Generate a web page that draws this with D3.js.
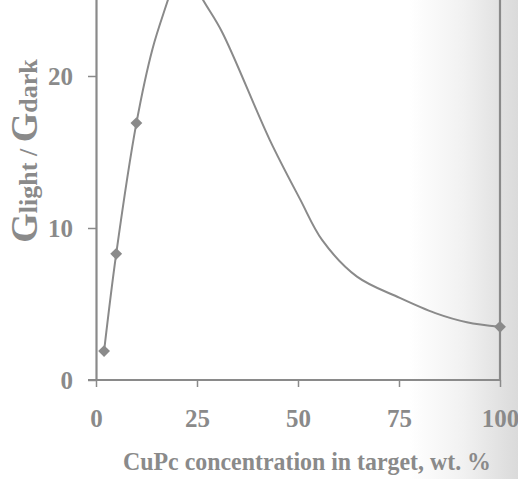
<!DOCTYPE html>
<html>
<head>
<meta charset="utf-8">
<script src="https://cdn.jsdelivr.net/npm/d3@7"></script>
<style>
  html, body { margin: 0; padding: 0; background: #fff; }
  svg { display: block; }
  text { font-family: "Liberation Serif", "Times New Roman", serif; font-weight: bold; fill: #8a8a8a; }
</style>
</head>
<body>
<svg id="chart" width="518" height="479"></svg>
<script>
// Measured points (diamond markers)
const markerX = [2, 5, 10, 20, 100];
const markerY = [1.9, 8.3, 16.9, 27.6, 3.5];
// Smooth curve
const curveX = [2, 5, 10, 14, 17.8, 21, 26.5, 31.2, 43, 50.5, 56, 64.6, 75.2, 84, 91.8, 100];
const curveY = [1.9, 8.3, 16.9, 21.8, 25, 27.6, 25, 22.9, 15.8, 11.9, 9.2, 6.8, 5.4, 4.4, 3.8, 3.5];
const xTicks = [0, 25, 50, 75, 100];
const yTicks = [0, 10, 20];
const xTitle = "CuPc concentration in target, wt. %";

const svg = d3.select("#chart");
const W = 518, H = 479;
const grey = "#8a8a8a";

// scan-like shading on right side
const defs = svg.append("defs");
const g1 = defs.append("linearGradient").attr("id", "shade").attr("x1", 0).attr("x2", 1).attr("y1", 0).attr("y2", 0);
g1.append("stop").attr("offset", "0").attr("stop-color", "#ffffff");
g1.append("stop").attr("offset", "0.5").attr("stop-color", "#f1f1f1");
g1.append("stop").attr("offset", "1").attr("stop-color", "#dadada");
svg.append("rect").attr("width", W).attr("height", H).attr("fill", "#fff");
svg.append("rect").attr("x", 410).attr("y", 0).attr("width", 108).attr("height", H).attr("fill", "url(#shade)");

const x = d3.scaleLinear().domain([0, 100]).range([96, 500]);
const y = d3.scaleLinear().domain([0, 30]).range([380, -76]);

// plot frame (top out of view)
svg.append("line").attr("x1", x(100)).attr("x2", x(100)).attr("y1", y(30)).attr("y2", y(0))
  .attr("stroke", grey).attr("stroke-width", 2.2);

// axes
const xAxis = d3.axisBottom(x).tickValues(xTicks).tickSize(7).tickPadding(22).tickFormat(d3.format("d"));
const gx = svg.append("g").attr("transform", `translate(0,${y(0)})`).call(xAxis);
const yAxis = d3.axisLeft(y).tickValues(yTicks).tickSize(8).tickPadding(15).tickFormat(d3.format("d"));
const gy = svg.append("g").attr("transform", `translate(${x(0)},0)`).call(yAxis);

[gx, gy].forEach(g => {
  g.select(".domain").attr("stroke", grey).attr("stroke-width", 2.2);
  g.selectAll(".tick line").attr("stroke", grey).attr("stroke-width", 1.5);
  g.selectAll(".tick text").style("font-size", "25px").attr("fill", grey);
});
gy.select(".domain").attr("d", `M0.5,${y(30)}V${y(0)}`);
gx.select(".domain").attr("d", `M${x(0) - 8},0H${x(100)}`);
gy.selectAll(".tick text").attr("dy", "0.35em");

// curve
const pts = curveX.map((v, i) => [v, curveY[i]]);
const line = d3.line().x(d => x(d[0])).y(d => y(d[1])).curve(d3.curveCatmullRom.alpha(0.5));
svg.append("path").datum(pts).attr("d", line).attr("fill", "none").attr("stroke", grey).attr("stroke-width", 2);

// markers (square diamonds)
const sym = d3.symbol().type(d3.symbolSquare).size(70);
svg.selectAll(".mk").data(markerX.map((v, i) => [v, markerY[i]])).enter().append("path")
  .attr("class", "mk").attr("d", sym)
  .attr("transform", d => `translate(${x(d[0])},${y(d[1])}) rotate(45)`)
  .attr("fill", grey);

// x title
svg.append("text").attr("x", 307).attr("y", 470).attr("text-anchor", "middle")
  .style("font-size", "25px").attr("textLength", 368).attr("lengthAdjust", "spacingAndGlyphs")
  .text(xTitle);

// y title
const yt = svg.append("text").attr("transform", "translate(37,151) rotate(-90)").attr("text-anchor", "middle");
yt.append("tspan").style("font-size", "38px").text("G");
yt.append("tspan").style("font-size", "26px").text("light / ");
yt.append("tspan").style("font-size", "38px").text("G");
yt.append("tspan").style("font-size", "26px").text("dark");
</script>
</body>
</html>
